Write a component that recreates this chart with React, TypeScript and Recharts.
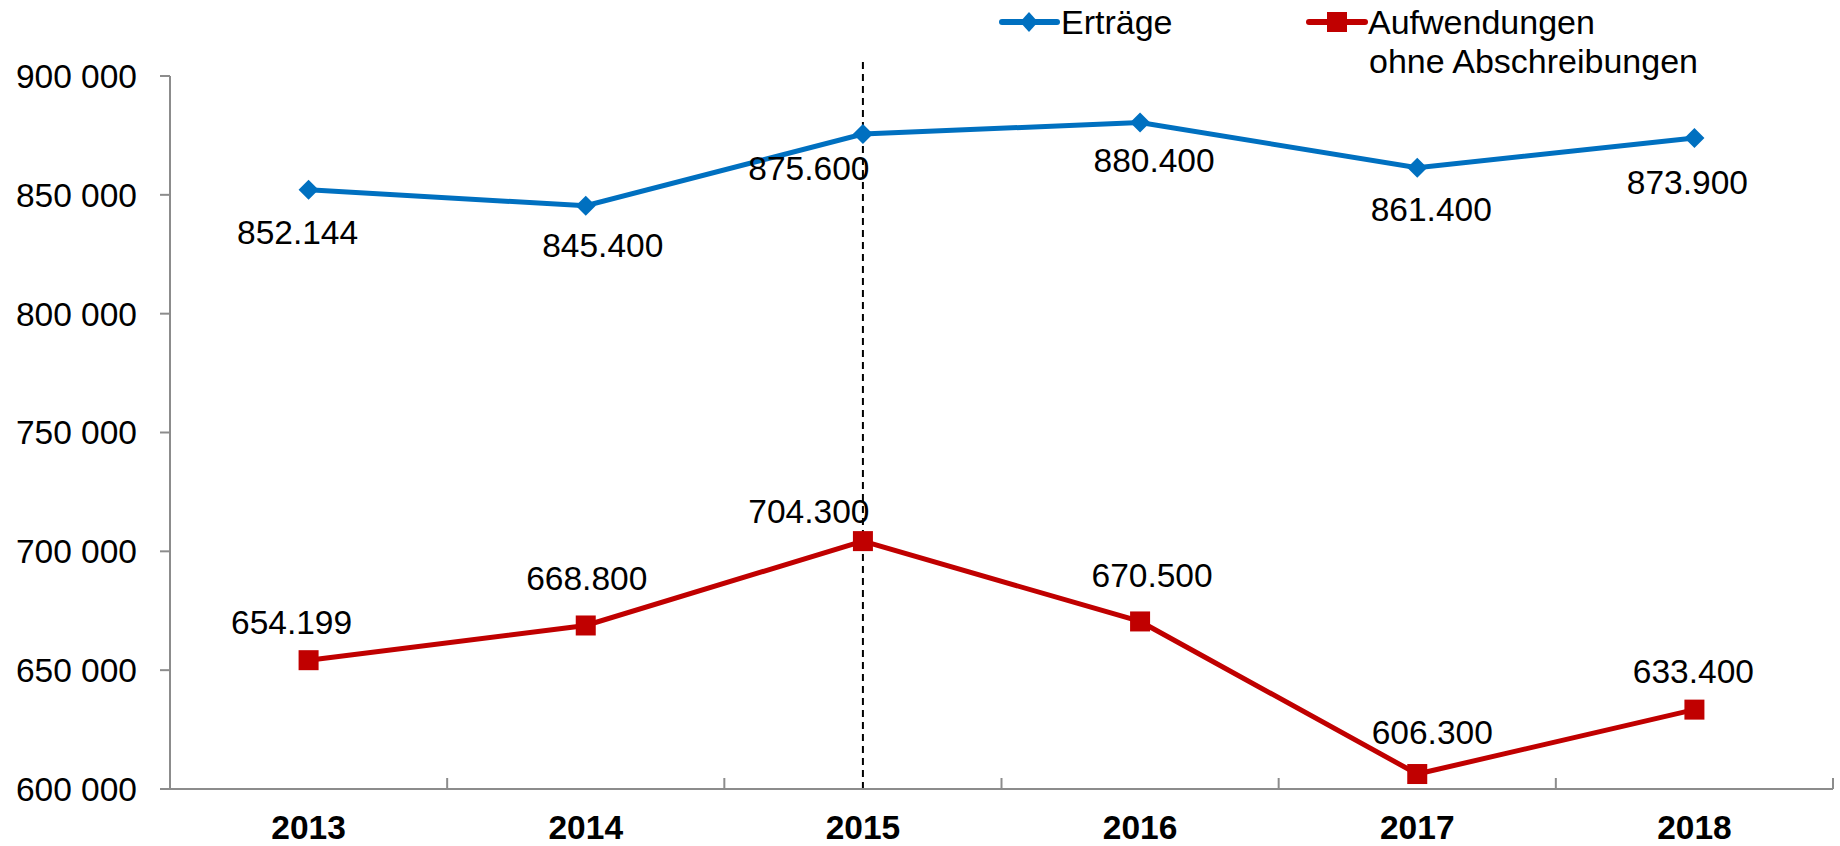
import React from 'react';
import { LineChart, Line, XAxis, YAxis, ReferenceLine, LabelList, Legend } from 'recharts';

// ---- data ----
const years = ['2013', '2014', '2015', '2016', '2017', '2018'];
const ertraege = [852144, 845400, 875600, 880400, 861400, 873900];
const aufwendungen = [654199, 668800, 704300, 670500, 606300, 633400];
const yTicks = [600000, 650000, 700000, 750000, 800000, 850000, 900000];
const seriesNames = ['Erträge', 'Aufwendungen', 'ohne Abschreibungen'];
const markedYear = '2015';

const data = years.map((y, i) => ({ year: y, ertraege: ertraege[i], aufwendungen: aufwendungen[i] }));

// ---- style ----
const W = 1840;
const H = 846;
const M = { top: 76, right: 7, bottom: 0, left: 0 };
const Y_AXIS_W = 170;
const X_AXIS_H = 57;
const BLUE = '#0070C0';
const RED = '#C00000';
const AXIS = '#8c8c8c';
const FONT = '"Liberation Sans", Arial, sans-serif';
const FS = 33.5;

// label offsets of the text centre relative to each point (manual placement in the original)
const ertraegeLabelShift = [[-11, 42], [17, 39], [-54, 34], [14, 37], [14, 41], [-7, 44]];
const aufwLabelShift = [[-17, -38], [1, -47], [-54, -30], [12, -46], [15, -42], [-1, -39]];

const fmtAxis = (v: number) => String(v).replace(/\B(?=(\d{3})+(?!\d))/g, ' ');
const fmtLabel = (v: number) => String(v).replace(/\B(?=(\d{3})+(?!\d))/g, '.');

const makeLabel = (shift: number[][]) => (props: any) => {
  const { x, y, value, index } = props;
  const s = shift[index] || [0, 0];
  return (
    <text
      key={`l-${index}`}
      x={x + s[0]}
      y={y + s[1] + 12}
      textAnchor="middle"
      fontFamily={FONT}
      fontSize={FS}
      fill="#000"
    >
      {fmtLabel(value)}
    </text>
  );
};

const Diamond = (props: any) => {
  const { cx, cy, index } = props;
  if (cx == null || cy == null) return <g key={`d-${index}`} />;
  const r = 10;
  return (
    <polygon
      key={`d-${index}`}
      points={`${cx},${cy - r} ${cx + r},${cy} ${cx},${cy + r} ${cx - r},${cy}`}
      fill={BLUE}
    />
  );
};

const Square = (props: any) => {
  const { cx, cy, index } = props;
  if (cx == null || cy == null) return <g key={`s-${index}`} />;
  return <rect key={`s-${index}`} x={cx - 10} y={cy - 10} width={20} height={20} fill={RED} />;
};

const BAND = (W - M.left - M.right - Y_AXIS_W) / years.length;

const XTick = (props: any) => {
  const { x, y, payload, index } = props;
  const half = payload && typeof payload.offset === 'number' && payload.offset > 0 ? payload.offset : BAND / 2;
  return (
    <g>
      <line x1={x - half} x2={x - half} y1={y} y2={y - 11} stroke={AXIS} strokeWidth={2} />
      {index === years.length - 1 && (
        <line x1={x + half} x2={x + half} y1={y} y2={y - 11} stroke={AXIS} strokeWidth={2} />
      )}
      <text x={x} y={y + 50} textAnchor="middle" fontFamily={FONT} fontSize={FS} fontWeight="bold" fill="#000">
        {payload.value}
      </text>
    </g>
  );
};

const LegendContent = () => (
  <svg width={W} height={90} style={{ display: 'block' }}>
    <line x1={1002} x2={1057} y1={22} y2={22} stroke={BLUE} strokeWidth={6} strokeLinecap="round" />
    <polygon points="1029,12 1038,22 1029,32 1020,22" fill={BLUE} />
    <text x={1061} y={34} fontFamily={FONT} fontSize={34} fill="#000">
      {seriesNames[0]}
    </text>
    <line x1={1309} x2={1365} y1={22} y2={22} stroke={RED} strokeWidth={6} strokeLinecap="round" />
    <rect x={1327} y={12} width={20} height={20} fill={RED} />
    <text x={1368} y={34} fontFamily={FONT} fontSize={34} fill="#000">
      {seriesNames[1]}
    </text>
    <text x={1369} y={73} fontFamily={FONT} fontSize={34} fill="#000">
      {seriesNames[2]}
    </text>
  </svg>
);

export default function App() {
  return (
    <div style={{ position: 'absolute', left: 0, top: 0, width: W, height: H, background: '#fff' }}>
      <LineChart width={W} height={H} data={data} margin={M}>
        <XAxis
          dataKey="year"
          scale="band"
          height={X_AXIS_H}
          axisLine={{ stroke: AXIS, strokeWidth: 2 }}
          tickLine={false}
          tickSize={0}
          tickMargin={0}
          tick={<XTick />}
          interval={0}
        />
        <YAxis
          width={Y_AXIS_W}
          domain={[600000, 900000]}
          ticks={yTicks}
          allowDataOverflow
          tickFormatter={fmtAxis}
          axisLine={{ stroke: AXIS, strokeWidth: 2 }}
          tickLine={{ stroke: AXIS, strokeWidth: 2 }}
          tickSize={10}
          tickMargin={23}
          tick={{ fill: '#000', fontSize: FS, fontFamily: FONT }}
        />
        <Legend
          layout="horizontal"
          verticalAlign="middle"
          align="center"
          content={<LegendContent />}
          wrapperStyle={{ position: 'absolute', left: 0, top: 0, width: W, height: 90 }}
        />
        <Line
          dataKey="ertraege"
          stroke={BLUE}
          strokeWidth={5}
          dot={Diamond}
          activeDot={false}
          isAnimationActive={false}
        >
          <LabelList dataKey="ertraege" content={makeLabel(ertraegeLabelShift)} />
        </Line>
        <Line
          dataKey="aufwendungen"
          stroke={RED}
          strokeWidth={5}
          dot={Square}
          activeDot={false}
          isAnimationActive={false}
        >
          <LabelList dataKey="aufwendungen" content={makeLabel(aufwLabelShift)} />
        </Line>
        <ReferenceLine
          segment={[{ x: markedYear, y: 600000 }, { x: markedYear, y: 907500 }]}
          ifOverflow="visible"
          stroke="#000"
          strokeWidth={2}
          strokeDasharray="7 5"
        />
      </LineChart>
    </div>
  );
}
